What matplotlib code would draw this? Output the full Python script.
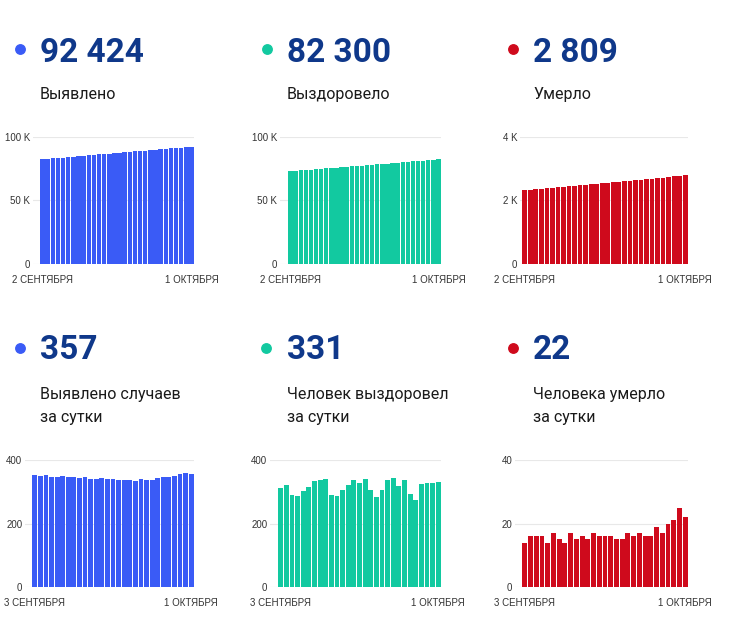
import matplotlib
matplotlib.use("Agg")
import matplotlib.pyplot as plt
from matplotlib.lines import Line2D

plt.rcParams['font.family'] = ['Roboto', 'DejaVu Sans']

# cumulative, 2 Sep .. 1 Oct
total_cases = [82428, 82780, 83129, 83481, 83826, 84173, 84522, 84867, 85214, 85558,
               85904, 86245, 86585, 86928, 87269, 87608, 87946, 88282, 88619, 88953,
               89292, 89630, 89966, 90308, 90653, 91001, 91352, 91707, 92067, 92424]
total_recovered = [73139, 73452, 73773, 74062, 74348, 74651, 74965, 75299, 75637, 75977,
                   76268, 76556, 76863, 77183, 77521, 77848, 78189, 78496, 78778, 79085,
                   79423, 79767, 80085, 80422, 80715, 80989, 81313, 81642, 81969, 82300]
total_deaths = [2323, 2337, 2353, 2369, 2385, 2399, 2416, 2431, 2445, 2462,
                2477, 2493, 2508, 2525, 2541, 2557, 2573, 2588, 2603, 2620,
                2636, 2653, 2669, 2685, 2704, 2721, 2741, 2762, 2787, 2809]

# daily, 3 Sep .. 1 Oct
daily_cases = [352, 349, 352, 345, 347, 349, 345, 347, 344, 346, 341, 340, 343, 341, 339,
               338, 336, 337, 334, 339, 338, 336, 342, 345, 348, 351, 355, 360, 357]
daily_recovered = [313, 321, 289, 286, 303, 314, 334, 338, 340, 291, 288, 307, 320, 338, 327,
                   341, 307, 282, 307, 338, 344, 318, 337, 293, 274, 324, 329, 327, 331]
daily_deaths = [14, 16, 16, 16, 14, 17, 15, 14, 17, 15, 16, 15, 17, 16, 16,
                16, 15, 15, 17, 16, 17, 16, 16, 19, 17, 20, 21, 25, 22]

top_dates = ["2 СЕНТЯБРЯ", "1 ОКТЯБРЯ"]
bottom_dates = ["3 СЕНТЯБРЯ", "1 ОКТЯБРЯ"]

headline = ["92 424", "82 300", "2 809", "357", "331", "22"]
captions = [["Выявлено"], ["Выздоровело"], ["Умерло"],
            ["Выявлено случаев", "за сутки"], ["Человек выздоровел", "за сутки"],
            ["Человека умерло", "за сутки"]]

blue, green, red = "#3a5bf6", "#12c9a0", "#cf0a1c"
navy = "#0f388a"
tick_font = "Liberation Sans"

W, H = 730, 622
fig = plt.figure(figsize=(W / 100, H / 100), dpi=100)

# (values, color, grid left px, bars left px, bars right px, top px, bottom px, ymax, yticks, ylabels, dates)
panels = [
    (total_cases, blue, 33, 40, 194, 137, 264, 100000, [0, 50000, 100000], ["0", "50 K", "100 K"], top_dates),
    (total_recovered, green, 280, 288, 441, 137, 264, 100000, [0, 50000, 100000], ["0", "50 K", "100 K"], top_dates),
    (total_deaths, red, 520, 522, 688, 137, 264, 4000, [0, 2000, 4000], ["0", "2 K", "4 K"], top_dates),
    (daily_cases, blue, 25, 32, 194, 460, 587, 400, [0, 200, 400], ["0", "200", "400"], bottom_dates),
    (daily_recovered, green, 270, 278, 441, 460, 587, 400, [0, 200, 400], ["0", "200", "400"], bottom_dates),
    (daily_deaths, red, 515, 522, 688, 460, 587, 40, [0, 20, 40], ["0", "20", "40"], bottom_dates),
]

# header positions: dot x, text x, dot y, number baseline, caption baselines
headers = [
    (20, 40, 49, 62, [99]),
    (267, 287, 49, 62, [99]),
    (513, 533, 49, 62, [99]),
    (20, 40, 348, 359, [399, 422]),
    (266, 287, 348, 359, [399, 422]),
    (513, 533, 348, 359, [399, 422]),
]

for i, (vals, col, gx, bx0, bx1, yt, yb, ymax, yt_vals, yt_labels, dates) in enumerate(panels):
    ax = fig.add_axes([gx / W, 1 - yb / H, (bx1 - gx) / W, (yb - yt) / H])
    n = len(vals)
    slot = (bx1 - bx0) / n
    extra = (bx0 - gx) / slot
    ax.bar(range(n), vals, width=0.86, color=col, zorder=2, linewidth=0)
    ax.set_xlim(-0.5 - extra, n - 0.5)
    ax.set_ylim(0, ymax)
    ax.set_yticks(yt_vals)
    ax.set_yticklabels(yt_labels, family=tick_font)
    ax.set_xticks([0, n - 1])
    ax.set_xticklabels(dates, family=tick_font)
    ax.grid(axis='y', color='#e8e8e8', linewidth=0.8, zorder=0)
    ax.set_axisbelow(True)
    for s in ax.spines.values():
        s.set_visible(False)
    ax.tick_params(axis='both', length=0, labelsize=7, colors='#333333')
    ax.tick_params(axis='y', pad=2)
    ax.tick_params(axis='x', pad=8)

    dx, tx, dy, nb, cb = headers[i]
    fig.add_artist(Line2D([dx / W], [1 - dy / H], marker='o', markersize=6.8,
                          color=col, linestyle='none', transform=fig.transFigure))
    fig.text(tx / W, 1 - nb / H, headline[i], fontsize=24, fontweight='bold',
             color=navy, va='baseline', ha='left')
    for line, b in zip(captions[i], cb):
        fig.text(tx / W, 1 - b / H, line, fontsize=11.5, color='#1a1a1a',
                 va='baseline', ha='left')

fig.savefig("out.png", dpi=100, facecolor='white')
